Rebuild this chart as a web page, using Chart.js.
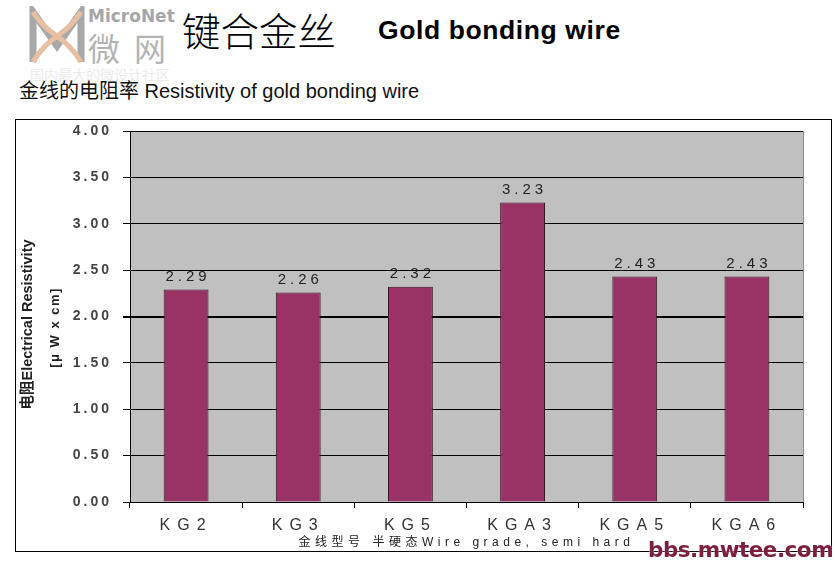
<!DOCTYPE html>
<html>
<head>
<meta charset="utf-8">
<script src="https://cdn.jsdelivr.net/npm/chart.js@4.4.1/dist/chart.umd.min.js"></script>
<style>
  body { margin: 0; background: #fff; }
  #page { position: relative; width: 839px; height: 563px; overflow: hidden; font-family: "Liberation Sans", Arial, sans-serif; }
  .abs { position: absolute; white-space: nowrap; }
  #frame { position: absolute; left: 15px; top: 119px; width: 815px; height: 431px; border: 1px solid #000; }
  #chartBox { position: absolute; left: 16px; top: 120px; width: 814px; height: 430px; }
</style>
</head>
<body>
<div id="page">
  <svg class="abs" style="left:28px;top:6px" width="58" height="60">
    <path d="M5 56 L5 6 L29 40 L53 6 L53 56" fill="none" stroke="#a8a8a8" stroke-width="7"/>
    <path d="M5 6 C20 30 38 30 53 56 M53 6 C38 30 20 30 5 56" fill="none" stroke="#e8bfa3" stroke-width="5"/>
  </svg>
  <div class="abs" style="left:88px;top:6px;font:bold 17px 'DejaVu Sans',sans-serif;color:#a6a6a6;">MicroNet</div>
  <div class="abs" style="left:88px;top:24px;font:32px 'Noto Sans CJK SC';color:#b4b4b4;letter-spacing:14px;">微网</div>
  <div class="abs" style="left:30px;top:64px;font:14px 'Noto Sans CJK SC';color:#ececec;">国内最大的微设计社区</div>
  <div class="abs" style="left:182px;top:1px;font:300 38.5px 'Noto Sans CJK SC';color:#000;">键合金丝</div>
  <div class="abs" style="left:378px;top:15px;font:bold 26.5px 'Liberation Sans',Arial;letter-spacing:0.6px;color:#000;">Gold bonding wire</div>
  <div class="abs" style="left:19px;top:75px;font:20px 'Liberation Sans','Noto Sans CJK SC';color:#111;">金线的电阻率 Resistivity of gold bonding wire</div>
  <div id="frame"></div>
  <div id="chartBox"><canvas id="c" width="814" height="430"></canvas></div>
  <div class="abs" style="left:648px;top:537px;font:900 21.5px 'DejaVu Sans',sans-serif;color:#7d1d40;letter-spacing:-0.5px;text-shadow:0 0 2px #fff;">bbs.mwtee.com</div>
</div>
<script>
// data
const grades = ['KG2', 'KG3', 'KG5', 'KGA3', 'KGA5', 'KGA6'];
const resistivity = [2.29, 2.26, 2.32, 3.23, 2.43, 2.43];
const yMin = 0;
const yMax = 4;
const yStep = 0.5;

const narrow = "'Liberation Sans Narrow', 'Liberation Sans', Arial";

// draw text of one scale part with its own letter spacing
function spaced(scale, method, spacing) {
  if (scale['_sp_' + method]) return;
  const orig = scale[method];
  scale[method] = function () {
    const ctx = this.ctx;
    ctx.letterSpacing = spacing;
    orig.apply(this, arguments);
    ctx.letterSpacing = '0px';
  };
  scale['_sp_' + method] = true;
}

const plotBg = {
  id: 'plotBg',
  beforeDraw(chart) {
    const a = chart.chartArea, ctx = chart.ctx;
    ctx.save();
    ctx.fillStyle = '#c0c0c0';
    ctx.fillRect(a.left, a.top, a.right - a.left, a.bottom - a.top);
    ctx.strokeStyle = '#8c8c8c';
    ctx.lineWidth = 1;
    ctx.beginPath();
    ctx.moveTo(a.right + 0.5, a.top);
    ctx.lineTo(a.right + 0.5, a.bottom);
    ctx.stroke();
    ctx.restore();
  }
};

const valueLabels = {
  id: 'valueLabels',
  afterDatasetsDraw(chart) {
    const ctx = chart.ctx;
    const meta = chart.getDatasetMeta(0);
    ctx.save();
    ctx.font = '15px ' + narrow;
    ctx.fillStyle = '#222';
    ctx.textAlign = 'center';
    ctx.textBaseline = 'bottom';
    ctx.letterSpacing = '4px';
    meta.data.forEach((bar, i) => {
      ctx.fillText(resistivity[i].toFixed(2), bar.x + 2, bar.y - 5);
    });
    ctx.restore();
  }
};

const yTitle = {
  id: 'yTitle',
  afterDraw(chart) {
    const ctx = chart.ctx;
    const cy = (chart.chartArea.top + chart.chartArea.bottom) / 2 + 8;
    ctx.save();
    ctx.fillStyle = '#222';
    ctx.textAlign = 'center';
    ctx.textBaseline = 'middle';
    ctx.translate(12, cy);
    ctx.rotate(-Math.PI / 2);
    ctx.font = "bold 14.5px 'Liberation Sans', 'Noto Sans CJK SC'";
    ctx.fillText('电阻Electrical Resistivity', 0, 0);
    ctx.font = "bold 13px 'Liberation Sans', 'Noto Sans CJK SC'";
    ctx.letterSpacing = '1.5px';
    ctx.fillText('[μ W x cm]', -3, 27);
    ctx.restore();
  }
};

new Chart(document.getElementById('c'), {
  type: 'bar',
  data: {
    labels: grades,
    datasets: [{
      data: resistivity,
      backgroundColor: '#993366',
      borderColor: '#3a1326',
      borderWidth: 1,
      categoryPercentage: 0.8,
      barPercentage: 0.5
    }]
  },
  options: {
    responsive: false,
    animation: false,
    devicePixelRatio: 1,
    layout: { padding: { top: 11, right: 27, left: 0, bottom: 0 } },
    plugins: {
      legend: { display: false },
      tooltip: { enabled: false }
    },
    scales: {
      x: {
        grid: {
          drawOnChartArea: false,
          color: '#000',
          tickLength: 6
        },
        border: { color: '#000', width: 1 },
        ticks: {
          color: '#333',
          font: { family: narrow, size: 16 },
          padding: 8
        },
        title: {
          display: true,
          text: '金线型号 半硬态Wire grade, semi hard',
          color: '#222',
          font: { family: "'Liberation Sans', 'Noto Sans CJK SC'", size: 12 },
          padding: { top: 0, bottom: 0 }
        },
        afterFit(scale) {
          scale.height = 48;
          scale.paddingLeft = 0;
          scale.paddingRight = 0;
          spaced(scale, 'drawLabels', '7px');
          spaced(scale, 'drawTitle', '4.5px');
        }
      },
      y: {
        min: yMin,
        max: yMax,
        grid: {
          color: '#000',
          tickLength: 7,
          lineWidth: (ctx) => (ctx.tick && ctx.tick.value === 2 ? 2 : 1)
        },
        border: { color: '#000', width: 1 },
        ticks: {
          stepSize: yStep,
          color: '#444',
          font: { family: narrow, size: 14, weight: 'bold' },
          padding: 11,
          callback: (v) => Number(v).toFixed(2)
        },
        afterFit(scale) {
          scale.width = 114;
          scale.paddingTop = 0;
          scale.paddingBottom = 0;
          spaced(scale, 'drawLabels', '3px');
        }
      }
    }
  },
  plugins: [plotBg, valueLabels, yTitle]
});
</script>
</body>
</html>
